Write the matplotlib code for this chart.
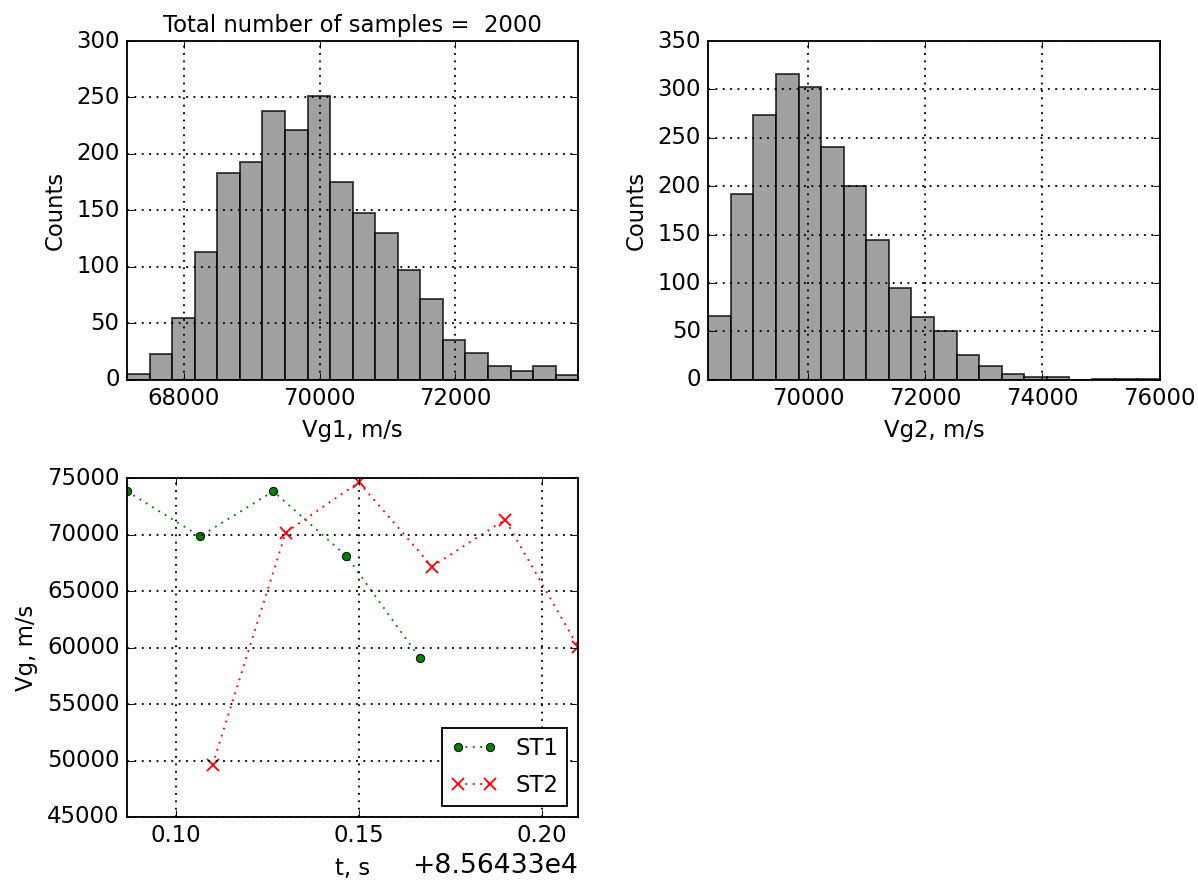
import numpy as np
import matplotlib
matplotlib.use("Agg")
from matplotlib import pyplot as plt
from matplotlib.ticker import ScalarFormatter

# histogram of Vg1: 20 bins over the data range
vg1_range = (67159, 73815)
vg1_counts = [5, 23, 55, 113, 183, 193, 238, 221, 251, 175,
              148, 130, 97, 72, 35, 24, 12, 8, 12, 4]

# histogram of Vg2: 20 bins over the data range
vg2_range = (68300, 76000)
vg2_counts = [66, 192, 274, 316, 303, 241, 200, 144, 95, 65,
              50, 26, 14, 6, 3, 3, 0, 1, 1, 1]

n_samples = 2000

# time series, t in seconds
t_offset = 85643.3
st1_t = [85643.3866, 85643.4066, 85643.4266, 85643.4466, 85643.4666]
st1_vg = [73830, 69850, 73830, 68110, 59100]
st2_t = [85643.4100, 85643.4300, 85643.4500, 85643.4700, 85643.4900, 85643.5100]
st2_vg = [49630, 70180, 74630, 67170, 71330, 60040]
t_ticks = [85643.40, 85643.45, 85643.50]


def draw_hist(ax, rng, counts, xlabel):
    edges = np.linspace(rng[0], rng[1], len(counts) + 1)
    mids = (edges[:-1] + edges[1:]) / 2
    ax.hist(mids, bins=edges, weights=counts, color="gray", alpha=0.75,
            edgecolor="k", linewidth=1.0)
    ax.set_xlim(rng)
    ax.set_xlabel(xlabel)
    ax.set_ylabel("Counts")
    ax.grid(True, linewidth=1.0)


def main():
    plt.style.use("classic")
    plt.rcParams["font.size"] = 12.3
    fig = plt.figure(figsize=(1198 / 133, 880 / 133), dpi=133)
    fig.subplots_adjust(left=0.106, right=0.968, top=0.9534, bottom=0.0716,
                        wspace=0.288, hspace=0.29)

    ax1 = fig.add_subplot(2, 2, 1)
    draw_hist(ax1, vg1_range, vg1_counts, "Vg1, m/s")
    ax1.set_ylim(0, 300)
    ax1.set_xticks([68000, 70000, 72000])
    ax1.set_title("Total number of samples =  %d" % n_samples, fontsize=12.3)

    ax2 = fig.add_subplot(2, 2, 2)
    draw_hist(ax2, vg2_range, vg2_counts, "Vg2, m/s")
    ax2.set_ylim(0, 350)
    ax2.set_xticks([70000, 72000, 74000, 76000])

    ax3 = fig.add_subplot(2, 2, 3)
    ax3.plot(st1_t, st1_vg, "go:", markersize=4.5, markeredgecolor="k",
             label="ST1")
    ax3.plot(st2_t, st2_vg, "rx:", markersize=7, markeredgewidth=1.0,
             label="ST2")
    ax3.set_xlim(st1_t[0], st2_t[-1])
    ax3.set_ylim(45000, 75000)
    ax3.set_xticks(t_ticks)
    fmt = ScalarFormatter(useOffset=t_offset)
    ax3.xaxis.set_major_formatter(fmt)
    ax3.set_xlabel("t, s")
    ax3.set_ylabel("Vg, m/s")
    ax3.grid(True, linewidth=1.0)
    ax3.legend(loc="lower right", numpoints=2, fontsize=12.3,
               labelspacing=0.6)
    ax3.xaxis.get_offset_text().set_fontsize(14.4)

    fig.savefig("out.png", dpi=133, facecolor="white")


if __name__ == "__main__":
    main()
